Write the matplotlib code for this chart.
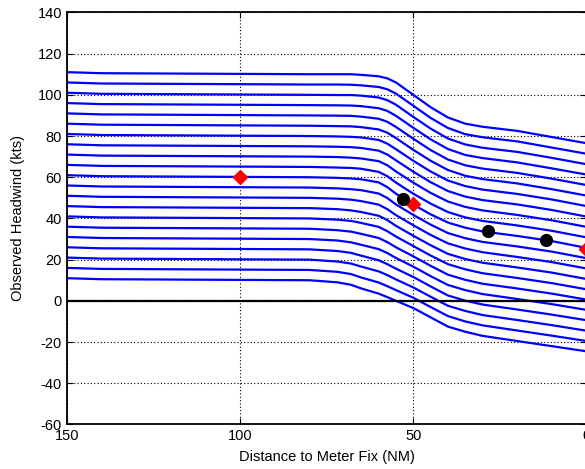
import matplotlib
matplotlib.use("Agg")
import matplotlib.pyplot as plt

plt.rcParams['font.family'] = ['Liberation Sans', 'DejaVu Sans']
plt.rcParams['axes.unicode_minus'] = False

# distance grid (NM) shared by all headwind traces
dist_nm = [150, 140, 80, 72, 68, 65, 60, 57.5, 55, 50, 45, 40, 35, 30, 20, 10, 0]

# headwind level of each trace before the descent (kts)
start_kts = [10, 15, 20, 25, 30, 35, 40, 45, 50, 55, 60,
             65, 70, 75, 80, 85, 90, 95, 100, 105, 110]

# change from start level at each grid distance, one row per trace
drop_kts = [
    [1, 0.5, 0, -1.0, -2.2, -4.0, -6.5, -8.2, -10.0, -13.5, -18.0, -22.5, -25.0, -27.0, -29.5, -32.0, -34.5],
    [1, 0.5, 0, -0.9, -2.0, -3.7, -6.1, -7.9, -9.8, -13.5, -18.0, -22.4, -25.0, -26.9, -29.4, -31.9, -34.5],
    [1, 0.5, 0, -0.9, -1.9, -3.4, -5.7, -7.5, -9.6, -13.5, -18.0, -22.4, -24.9, -26.9, -29.3, -31.8, -34.5],
    [1, 0.5, 0, -0.8, -1.7, -3.1, -5.3, -7.2, -9.4, -13.4, -18.0, -22.4, -24.9, -26.8, -29.2, -31.7, -34.4],
    [1, 0.5, 0, -0.7, -1.6, -2.8, -4.9, -6.8, -9.2, -13.4, -18.0, -22.3, -24.8, -26.7, -29.1, -31.6, -34.4],
    [1, 0.5, 0, -0.7, -1.4, -2.5, -4.5, -6.5, -9.0, -13.4, -18.0, -22.3, -24.8, -26.7, -29.0, -31.5, -34.4],
    [1, 0.5, 0, -0.6, -1.2, -2.2, -4.1, -6.2, -8.8, -13.4, -18.0, -22.2, -24.7, -26.6, -28.9, -31.4, -34.4],
    [1, 0.5, 0, -0.5, -1.1, -1.9, -3.7, -5.8, -8.6, -13.4, -18.0, -22.2, -24.7, -26.5, -28.8, -31.3, -34.4],
    [1, 0.5, 0, -0.4, -0.9, -1.6, -3.3, -5.5, -8.4, -13.3, -18.0, -22.1, -24.6, -26.4, -28.7, -31.2, -34.3],
    [1, 0.5, 0, -0.4, -0.8, -1.3, -2.9, -5.1, -8.2, -13.3, -18.0, -22.1, -24.6, -26.4, -28.6, -31.1, -34.3],
    [1, 0.5, 0, -0.3, -0.6, -1.0, -2.5, -4.8, -8.0, -13.3, -18.0, -22.0, -24.5, -26.3, -28.5, -31.0, -34.3],
    [1, 0.5, 0, -0.3, -0.5, -0.9, -2.4, -4.5, -7.6, -13.0, -17.8, -21.9, -24.5, -26.2, -28.4, -31.0, -34.2],
    [1, 0.5, 0, -0.2, -0.5, -0.9, -2.2, -4.2, -7.2, -12.6, -17.6, -21.8, -24.4, -26.1, -28.3, -30.9, -34.1],
    [1, 0.5, 0, -0.2, -0.4, -0.8, -2.1, -4.0, -6.8, -12.3, -17.4, -21.7, -24.4, -26.1, -28.2, -30.9, -34.1],
    [1, 0.5, 0, -0.2, -0.4, -0.7, -1.9, -3.7, -6.4, -12.0, -17.2, -21.6, -24.3, -26.0, -28.1, -30.8, -34.0],
    [1, 0.5, 0, -0.2, -0.3, -0.7, -1.8, -3.4, -6.0, -11.7, -17.0, -21.5, -24.3, -25.9, -28.0, -30.8, -33.9],
    [1, 0.5, 0, -0.1, -0.2, -0.6, -1.6, -3.1, -5.6, -11.3, -16.8, -21.4, -24.2, -25.8, -27.9, -30.7, -33.8],
    [1, 0.5, 0, -0.1, -0.2, -0.5, -1.5, -2.8, -5.2, -11.0, -16.6, -21.3, -24.2, -25.7, -27.8, -30.7, -33.7],
    [1, 0.5, 0, -0.1, -0.1, -0.4, -1.3, -2.6, -4.8, -10.7, -16.4, -21.2, -24.1, -25.7, -27.7, -30.6, -33.7],
    [1, 0.5, 0, 0.0, -0.1, -0.4, -1.2, -2.3, -4.4, -10.3, -16.2, -21.1, -24.1, -25.6, -27.6, -30.6, -33.6],
    [1, 0.5, 0, 0.0, 0.0, -0.3, -1.0, -2.0, -4.0, -10.0, -16.0, -21.0, -24.0, -25.5, -27.5, -30.5, -33.5],
]

# observed points on the reference trajectory
diamond_x = [100, 50, 0]
diamond_y = [60.3, 47.0, 25.0]
circle_x = [53.1, 28.4, 11.6]
circle_y = [49.6, 33.7, 29.7]

x_ticks = [150, 100, 50, 0]
y_ticks = [-60, -40, -20, 0, 20, 40, 60, 80, 100, 120, 140]


def main():
    fig = plt.figure(figsize=(5.85, 4.69), dpi=100)
    ax = fig.add_axes([0.1145, 0.095, 0.888, 0.8785])

    for level, drops in zip(start_kts, drop_kts):
        wind = [level + d for d in drops]
        ax.plot(dist_nm, wind, color='#0000ff', lw=1.6, zorder=2)

    ax.axhline(0, color='black', lw=1.6, zorder=3)

    ax.plot(diamond_x, diamond_y, 'D', color='#ff0000', ms=7, mec='#ff0000', zorder=4)
    ax.plot(circle_x, circle_y, 'o', color='black', ms=8.5, zorder=4)

    ax.set_xlim(150, 0)
    ax.set_ylim(-60, 140)
    ax.set_xticks(x_ticks)
    ax.set_yticks(y_ticks)
    ax.grid(True, color='black', linestyle=(0, (1, 2)), lw=0.8)
    ax.tick_params(direction='in', length=4, top=True, right=True, labelsize=10.5, colors='black')
    for spine in ax.spines.values():
        spine.set_linewidth(1.3)

    ax.set_xlabel('Distance to Meter Fix (NM)', fontsize=10.5, labelpad=5)
    ax.set_ylabel('Observed Headwind (kts)', fontsize=10.5, labelpad=9)

    fig.savefig('out.png', dpi=100)
    plt.close(fig)


if __name__ == "__main__":
    main()
